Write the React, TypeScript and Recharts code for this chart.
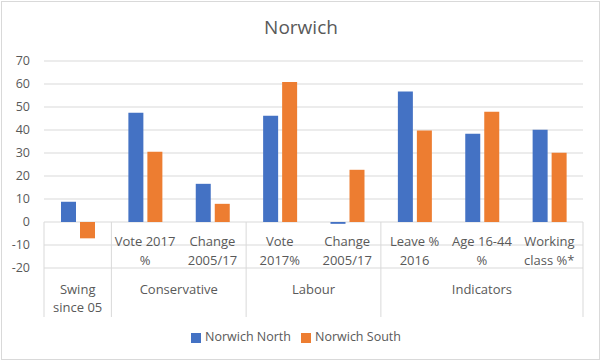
import React from 'react';
import { BarChart, Bar, XAxis, YAxis, CartesianGrid, Legend } from 'recharts';

const categoryKeys = ['swing', 'conVote', 'conChange', 'labVote', 'labChange', 'leave', 'age', 'working'];
const subLabels = ['', 'Vote 2017\n%', 'Change\n2005/17', 'Vote\n2017%', 'Change\n2005/17', 'Leave %\n2016', 'Age 16-44\n%', 'Working\nclass %*'];
const groupLabels = ['Swing\nsince 05', 'Conservative', 'Labour', 'Indicators'];
const groupOfCategory = [0, 1, 1, 2, 2, 3, 3, 3];
const northValues = [8.8, 47.5, 16.6, 46.2, -0.8, 56.7, 38.4, 40.1];
const southValues = [-7.1, 30.5, 7.9, 60.9, 22.7, 39.8, 47.9, 30.1];
const yTicks = [-20, -10, 0, 10, 20, 30, 40, 50, 60, 70];

const data = categoryKeys.map((k, i) => ({
  key: k,
  north: northValues[i],
  south: southValues[i],
}));

const FONT = '"Open Sans", "Noto Sans", sans-serif';
const TEXT = '#595959';
const GRID = '#d9d9d9';

const CategoryTick = (props: any) => {
  const { x, y, payload, index } = props;
  const half = payload && payload.offset ? payload.offset : 0;
  const i = index as number;
  const g = groupOfCategory[i];
  const isGroupStart = i === 0 || groupOfCategory[i - 1] !== g;
  const isLast = i === categoryKeys.length - 1;
  const sub = subLabels[i].split('\n').filter((s) => s.length);
  let groupEl = null;
  if (isGroupStart) {
    let count = 0;
    for (let j = i; j < groupOfCategory.length && groupOfCategory[j] === g; j++) count++;
    const gx = x - half + count * half;
    const lines = groupLabels[g].split('\n');
    groupEl = (
      <text x={gx} y={y} textAnchor="middle" fill={TEXT} fontSize={13} fontFamily={FONT}>
        {lines.map((l, li) => (
          <tspan key={li} x={gx} dy={li === 0 ? 26 : 18}>
            {l}
          </tspan>
        ))}
      </text>
    );
  }
  const subStart = sub.length === 2 ? -22 : -12;
  return (
    <g>
      {sub.length > 0 && (
        <text x={x} y={y} textAnchor="middle" fill={TEXT} fontSize={13} fontFamily={FONT}>
          {sub.map((l, li) => (
            <tspan key={li} x={x} dy={li === 0 ? subStart : 19}>
              {l}
            </tspan>
          ))}
        </text>
      )}
      {groupEl}
      {isGroupStart && <line x1={x - half} x2={x - half} y1={y - 46} y2={y + 49} stroke={GRID} />}
      {isLast && <line x1={x + half} x2={x + half} y1={y - 46} y2={y + 49} stroke={GRID} />}
    </g>
  );
};

export default function App() {
  return (
    <div style={{ position: 'absolute', left: 0, top: 0, width: 602, height: 362, background: '#fff' }}>
      <style>{'body{margin:0;}'}</style>
      <div
        style={{
          position: 'absolute',
          left: 1,
          top: 1,
          width: 599,
          height: 359,
          boxSizing: 'border-box',
          border: `1px solid ${GRID}`,
        }}
      />
      <div
        style={{
          position: 'absolute',
          left: 0,
          top: 18,
          width: 602,
          textAlign: 'center',
          fontFamily: FONT,
          fontSize: 19,
          lineHeight: '19px',
          color: TEXT,
        }}
      >
        Norwich
      </div>
      <BarChart
        width={602}
        height={362}
        data={data}
        margin={{ top: 61, right: 19, left: 0, bottom: 45 }}
        barSize={15}
        barGap={4}
      >
        <CartesianGrid vertical={false} stroke={GRID} />
        <YAxis
          domain={[-20, 70]}
          ticks={yTicks}
          width={44}
          axisLine={false}
          tickLine={false}
          tickSize={0}
          tickMargin={14}
          interval={0}
          tick={{ fill: TEXT, fontSize: 12.5, fontFamily: FONT }}
        />
        <XAxis
          dataKey="key"
          height={49}
          axisLine={false}
          tickLine={false}
          tickSize={0}
          tickMargin={0}
          interval={0}
          tick={<CategoryTick />}
        />
        <Legend
          verticalAlign="middle"
          align="center"
          layout="horizontal"
          iconType="square"
          iconSize={10}
          wrapperStyle={{ top: 328, left: 0, width: 602, fontFamily: FONT, fontSize: 12.5 }}
          formatter={(value: string) => <span style={{ color: TEXT }}>{value}</span>}
        />
        <Bar dataKey="north" name="Norwich North" fill="#4472c4" isAnimationActive={false} />
        <Bar dataKey="south" name="Norwich South" fill="#ed7d31" isAnimationActive={false} />
      </BarChart>
    </div>
  );
}
